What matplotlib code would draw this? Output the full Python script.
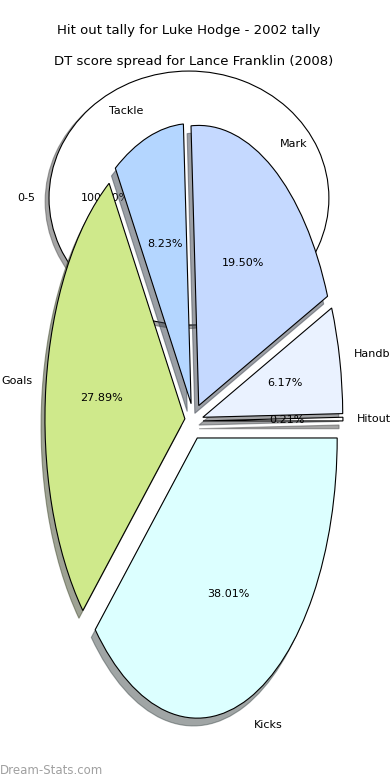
import matplotlib
matplotlib.use("Agg")
import matplotlib.pyplot as plt

# first pie: Luke Hodge hit outs
hodge_labels = ["0-5"]
hodge_values = [100.0]
hodge_colors = ["white"]

# second pie: Lance Franklin DT score spread
franklin_labels = ["Hitouts", "Handball", "Mark", "Tackle", "Goals", "Kicks"]
franklin_values = [0.21, 6.17, 19.50, 8.23, 27.89, 38.01]
franklin_colors = ["#ffffff", "#eaf2ff", "#c5d9ff", "#b4d6ff", "#cfe98b", "#dcffff"]

fig = plt.figure(figsize=(3.9, 7.8), dpi=100)

wedge_style = {"edgecolor": "black", "linewidth": 0.8}

ax1 = fig.add_axes((0.036, 0.5426, 0.897, 0.407))
ax1.pie(hodge_values, labels=hodge_labels, colors=hodge_colors,
        autopct="%1.2f%%", shadow=True, wedgeprops=wedge_style,
        textprops={"fontsize": 8})
ax1.set_aspect("auto")
ax1.set_xlim(-1.25, 1.25)
ax1.set_ylim(-1.25, 1.25)
ax1.set_title("Hit out tally for Luke Hodge - 2002 tally", fontsize=9.5, pad=3.6)

ax2 = fig.add_axes((0.0487, 0.0112, 0.897, 0.898))
ax2.pie(franklin_values, labels=franklin_labels, colors=franklin_colors,
        explode=[0.065] * len(franklin_values), autopct="%1.2f%%",
        shadow=True, wedgeprops=wedge_style, textprops={"fontsize": 8})
ax2.set_aspect("auto")
ax2.set_xlim(-1.25, 1.25)
ax2.set_ylim(-1.25, 1.25)
ax2.set_title("DT score spread for Lance Franklin (2008)", fontsize=9.5, pad=4.0)

fig.text(0.0, 0.0043, "Dream-Stats.com", fontsize=8.5, color="#a0a0a0",
         ha="left", va="bottom")

fig.savefig("out.png", dpi=100)
